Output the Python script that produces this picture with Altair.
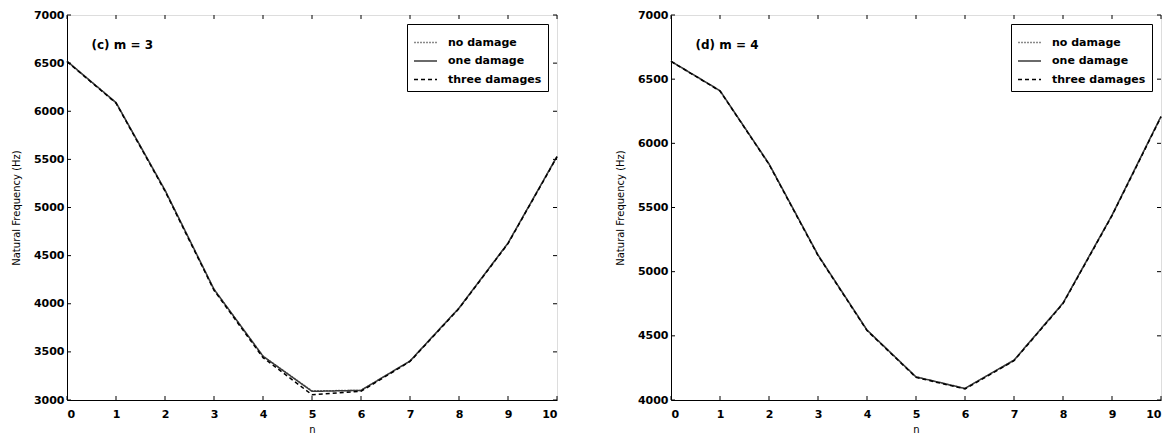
import altair as alt
import pandas as pd

n_vals = [0, 1, 2, 3, 4, 5, 6, 7, 8, 9, 10]
series_names = ["no damage", "one damage", "three damages"]

# m = 3
m3_no = [6520, 6090, 5180, 4150, 3455, 3095, 3100, 3405, 3955, 4630, 5530]
m3_one = [6520, 6090, 5180, 4150, 3455, 3090, 3100, 3405, 3955, 4630, 5530]
m3_three = [6515, 6085, 5170, 4140, 3440, 3055, 3090, 3400, 3950, 4625, 5525]

# m = 4
m4_no = [6640, 6410, 5840, 5130, 4545, 4180, 4090, 4310, 4755, 5440, 6210]
m4_one = [6640, 6410, 5840, 5130, 4545, 4180, 4090, 4310, 4755, 5440, 6210]
m4_three = [6638, 6408, 5836, 5126, 4541, 4176, 4086, 4306, 4751, 5436, 6205]

x_ticks = list(range(0, 11))
y_ticks_m3 = list(range(3000, 7001, 500))
y_ticks_m4 = list(range(4000, 7001, 500))


def make_df(a, b, c):
    rows = []
    for s, vals in zip(series_names, [a, b, c]):
        for n, v in zip(n_vals, vals):
            rows.append({"n": n, "freq": v, "series": s})
    return pd.DataFrame(rows)


FONT = "DejaVu Sans"
W, H = 490, 385


def panel(df, ydom, yticks, label, label_y):
    x = alt.X("n:Q", scale=alt.Scale(domain=[0, 10], nice=False),
              axis=alt.Axis(values=x_ticks, title="n", grid=False, tickSize=0, format="d",
                            labelPadding=8, labelFontWeight="bold", labelFontSize=11,
                            titleFontSize=10, titleFontWeight="normal", titlePadding=5,
                            domainColor="black", labelColor="black", titleColor="#000000",
                            labelFont=FONT, titleFont=FONT))
    y = alt.Y("freq:Q", scale=alt.Scale(domain=ydom, nice=False),
              axis=alt.Axis(values=yticks, title="Natural Frequency (Hz)", grid=False,
                            tickSize=0, labelPadding=3, labelFontWeight="bold", format="d",
                            labelFontSize=11, titleFontSize=10, titleFontWeight="normal",
                            titlePadding=12, domainColor="black", labelColor="black",
                            titleColor="#000000", labelFont=FONT, titleFont=FONT,
                            labelOverlap=False, labelFlush=False))
    lines = alt.Chart(df).mark_line(strokeWidth=1.5).encode(
        x=x, y=y,
        color=alt.Color("series:N", scale=alt.Scale(domain=series_names,
                                                    range=["#8a8a8a", "#3a3a3a", "#000000"]),
                        legend=alt.Legend(title=None, orient="top-right", offset=9,
                                          fillColor="white", strokeColor="black",
                                          padding=6, rowPadding=0.5, symbolType="stroke",
                                          symbolSize=529, symbolStrokeWidth=1.6,
                                          labelOffset=10,
                                          labelFontSize=11, labelFont=FONT,
                                          labelColor="black", labelFontWeight="bold")),
        strokeDash=alt.StrokeDash("series:N", scale=alt.Scale(domain=series_names,
                                                              range=[[2, 1], [1, 0], [4, 3]]),
                                  legend=None),
        order=alt.Order("series:N"),
    )
    tick_df = pd.DataFrame({"n": x_ticks})
    ytick_df = pd.DataFrame({"freq": yticks})
    xs = alt.X("n:Q", scale=alt.Scale(domain=[0, 10], nice=False))
    ys = alt.Y("freq:Q", scale=alt.Scale(domain=ydom, nice=False))
    bt = alt.Chart(tick_df).mark_rule(color="black").encode(x=xs, y=alt.value(H - 4), y2=alt.value(H))
    tt = alt.Chart(tick_df).mark_rule(color="black").encode(x=xs, y=alt.value(0), y2=alt.value(4))
    lt = alt.Chart(ytick_df).mark_rule(color="black").encode(y=ys, x=alt.value(0), x2=alt.value(4))
    rt = alt.Chart(ytick_df).mark_rule(color="black").encode(y=ys, x=alt.value(W - 4), x2=alt.value(W))
    txt = alt.Chart(pd.DataFrame({"n": [0.5], "freq": [label_y], "t": [label]})).mark_text(
        align="left", baseline="middle", fontSize=12, fontWeight="bold", font=FONT, color="black"
    ).encode(x=xs, y=ys, text="t:N")
    return alt.layer(lines, bt, tt, lt, rt, txt).properties(width=W, height=H)


left = panel(make_df(m3_no, m3_one, m3_three), [3000, 7000], y_ticks_m3, "(c) m = 3", 6690)
right = panel(make_df(m4_no, m4_one, m4_three), [4000, 7000], y_ticks_m4, "(d) m = 4", 6770)

chart = alt.hconcat(left, right, spacing=53).resolve_scale(
    y="independent", color="independent", strokeDash="independent"
).configure_view(stroke="black", strokeWidth=1).configure(
    padding={"left": 2, "top": 0, "right": 0, "bottom": 0}, background="white")

chart.save("out.html", embed_options={"renderer": "svg", "actions": False})
